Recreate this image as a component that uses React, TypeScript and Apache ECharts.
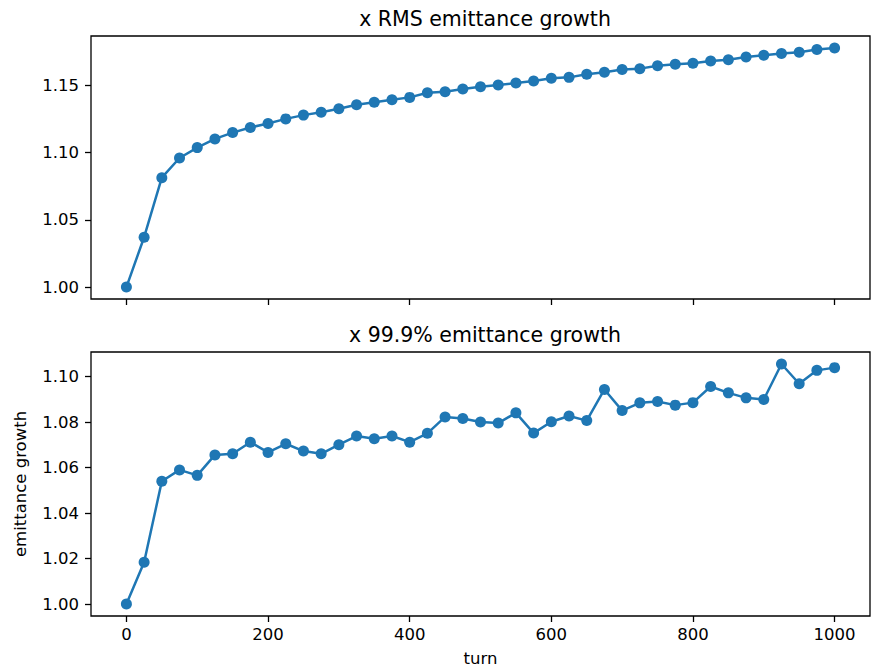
import React, { useEffect, useRef } from "react";
import * as echarts from "echarts";

// turn numbers sampled every 25 turns
const turns: number[] = [
  0, 25, 50, 75, 100, 125, 150, 175, 200, 225, 250, 275, 300, 325, 350, 375, 400,
  425, 450, 475, 500, 525, 550, 575, 600, 625, 650, 675, 700, 725, 750, 775, 800,
  825, 850, 875, 900, 925, 950, 975, 1000,
];

// RMS emittance growth
const rmsGrowth: number[] = [
  1.0, 1.0371, 1.0814, 1.0961, 1.1038, 1.1103, 1.115, 1.1188, 1.1218, 1.1252,
  1.128, 1.1302, 1.1327, 1.1357, 1.1375, 1.1394, 1.1412, 1.1447, 1.1454, 1.1474,
  1.1492, 1.1504, 1.1519, 1.1534, 1.1554, 1.1561, 1.1584, 1.1599, 1.1619, 1.1626,
  1.1648, 1.1658, 1.1666, 1.1683, 1.1693, 1.1713, 1.1726, 1.1738, 1.1748, 1.1768,
  1.178,
];

// 99.9% emittance growth
const pctGrowth: number[] = [
  1.0, 1.0184, 1.054, 1.059, 1.0566, 1.0656, 1.0661, 1.0712, 1.0667, 1.0705,
  1.0673, 1.0661, 1.0701, 1.0739, 1.0727, 1.0739, 1.0712, 1.0751, 1.0823, 1.0816,
  1.0801, 1.0796, 1.0841, 1.0752, 1.0802, 1.0827, 1.0807, 1.0944, 1.0851, 1.0885,
  1.0891, 1.0875, 1.0886, 1.0957, 1.0929, 1.0907, 1.09, 1.1056, 1.0969, 1.1028,
  1.104,
];

const xTicks: number[] = [0, 200, 400, 600, 800, 1000];
const rmsTicks: number[] = [1.0, 1.05, 1.1, 1.15];
const pctTicks: number[] = [1.0, 1.02, 1.04, 1.06, 1.08, 1.1];

const titles: string[] = ["x RMS emittance growth", "x 99.9% emittance growth"];
const xName = "turn";
const yName = "emittance growth";

const BLUE = "#1f77b4";
const FONT = "DejaVu Sans";
const TICK_FONT = 16.5;
const TITLE_FONT = 20.5;

// matplotlib-style 5% data margins
function padded(vals: number[]) {
  const lo = Math.min(...vals);
  const hi = Math.max(...vals);
  const m = (hi - lo) * 0.05;
  return { min: lo - m, max: hi + m };
}

export default function App() {
  const ref = useRef<HTMLDivElement>(null);

  useEffect(() => {
    if (!ref.current) return;
    const chart = echarts.init(ref.current, undefined, { renderer: "svg" });
    const xr = padded(turns);
    const r1 = padded(rmsGrowth);
    const r2 = padded(pctGrowth);

    const tickStyle = { show: true, length: 6, lineStyle: { color: "#000", width: 1.3 } };

    const xAxisBase = (gridIndex: number, showLabels: boolean) => ({
      type: "value" as const,
      gridIndex,
      position: "bottom" as const,
      min: xr.min,
      max: xr.max,
      axisLine: { show: false, onZero: false },
      splitLine: { show: false },
      axisTick: { ...tickStyle, customValues: xTicks },
      axisLabel: {
        show: showLabels,
        customValues: xTicks,
        color: "#000",
        fontFamily: FONT,
        fontSize: TICK_FONT,
        margin: 10,
        formatter: (v: number) => String(v),
      },
    });

    const yAxisBase = (gridIndex: number, r: { min: number; max: number }, ticks: number[]) => ({
      type: "value" as const,
      gridIndex,
      position: "left" as const,
      min: r.min,
      max: r.max,
      axisLine: { show: false, onZero: false },
      splitLine: { show: false },
      axisTick: { ...tickStyle, customValues: ticks },
      axisLabel: {
        customValues: ticks,
        color: "#000",
        fontFamily: FONT,
        fontSize: TICK_FONT,
        margin: 12,
        formatter: (v: number) => v.toFixed(2),
      },
    });

    const lineSeries = (idx: number, vals: number[]) => ({
      type: "line" as const,
      xAxisIndex: idx,
      yAxisIndex: idx,
      data: turns.map((t, i) => [t, vals[i]]),
      symbol: "circle",
      symbolSize: 11,
      showSymbol: true,
      lineStyle: { color: BLUE, width: 2.5 },
      itemStyle: { color: BLUE },
    });

    const titleStyle = { fontFamily: FONT, fontSize: TITLE_FONT, fontWeight: "normal", color: "#000" };

    chart.setOption({
      animation: false,
      backgroundColor: "#fff",
      title: [
        { text: titles[0], left: 480, top: 3, textAlign: "center", textStyle: titleStyle },
        { text: titles[1], left: 480, top: 319, textAlign: "center", textStyle: titleStyle },
      ],
      grid: [
        { left: 91, top: 36, width: 779, height: 263, show: true, borderColor: "#000", borderWidth: 1.3, backgroundColor: "transparent" },
        { left: 91, top: 352, width: 779, height: 264, show: true, borderColor: "#000", borderWidth: 1.3, backgroundColor: "transparent" },
      ],
      xAxis: [
        xAxisBase(0, false),
        {
          ...xAxisBase(1, true),
          name: xName,
          nameLocation: "middle",
          nameGap: 34,
          nameTextStyle: { fontFamily: FONT, fontSize: TICK_FONT, color: "#000" },
        },
      ],
      yAxis: [
        yAxisBase(0, r1, rmsTicks),
        {
          ...yAxisBase(1, r2, pctTicks),
          name: yName,
          nameLocation: "middle",
          nameGap: 62,
          nameTextStyle: { fontFamily: FONT, fontSize: TICK_FONT, color: "#000" },
        },
      ],
      series: [lineSeries(0, rmsGrowth), lineSeries(1, pctGrowth)],
    });

    return () => chart.dispose();
  }, []);

  return (
    <div
      ref={ref}
      style={{ position: "fixed", left: 0, top: 0, width: 874, height: 668 }}
    />
  );
}
